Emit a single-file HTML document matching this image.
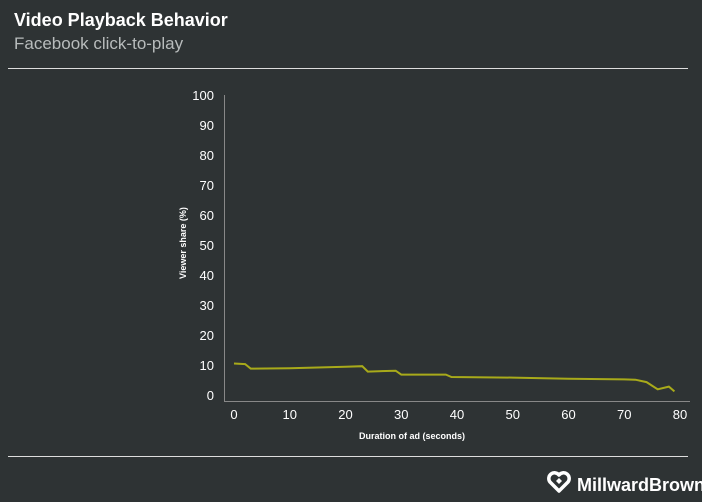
<!DOCTYPE html>
<html><head><meta charset="utf-8"><style>
body{margin:0;background:#2e3334;width:702px;height:497px;overflow:hidden;font-family:"Liberation Sans",sans-serif}
</style></head><body>
<svg width="702" height="497">
<rect width="702" height="497" fill="#2e3334"/>
<text x="14" y="26" fill="#fff" font-size="18" font-weight="bold">Video Playback Behavior</text>
<text x="14" y="49" fill="#b8bcbc" font-size="17">Facebook click-to-play</text>
<line x1="8" y1="68.5" x2="688" y2="68.5" stroke="#ddd" stroke-width="1"/>
<line x1="8" y1="456.5" x2="688" y2="456.5" stroke="#ddd" stroke-width="1"/>
<g id="axes"></g>
<polyline id="series" fill="none" stroke="#a8aa1a" stroke-width="2"/>
<text x="412" y="439" fill="#fff" font-size="9" font-weight="bold" text-anchor="middle">Duration of ad (seconds)</text>
<text transform="translate(186,243) rotate(-90)" fill="#fff" font-size="9" font-weight="bold" text-anchor="middle">Viewer share (%)</text>
<g>
<path d="M559 491 l-9 -9 a5 5 0 0 1 9 -7 a5 5 0 0 1 9 7 z" fill="none" stroke="#fff" stroke-width="3.5" stroke-linejoin="round"/>
<path d="M559 484 l-3 -3 3 -3 3 3z" fill="#fff"/>
<text x="577" y="491" fill="#fff" font-size="18" font-weight="bold">MillwardBrown</text>
</g>
</svg>
<script>
const durations=[0,2,3,10,20,23,24,29,30,38,39,50,60,70,72,74,76,78,79];
const shares=[10.5,10.3,8.8,8.9,9.4,9.6,7.8,8.1,6.8,6.8,6.0,5.8,5.4,5.2,5.1,4.3,1.9,2.8,1.2];
const xTicks=[0,10,20,30,40,50,60,70,80];
const yTicks=[0,10,20,30,40,50,60,70,80,90,100];
const NS="http://www.w3.org/2000/svg";
const xs=v=>234+v*(680-234)/80;
const ys=v=>395-v*3;
const ax=document.getElementById('axes');
function mk(tag,attrs,txt){const e=document.createElementNS(NS,tag);for(const k in attrs)e.setAttribute(k,attrs[k]);if(txt!==undefined)e.textContent=txt;ax.appendChild(e);return e;}
let a=mk('line',{x1:224.5,y1:95,x2:224.5,y2:401.5,stroke:'#888'});


let b=mk('line',{x1:224,y1:401.5,x2:690,y2:401.5,stroke:'#888'});


yTicks.forEach(v=>{const t=mk('text',{x:214,y:ys(v)+5,fill:'#fff','font-size':13,'text-anchor':'end'},v);

});
xTicks.forEach(v=>{const t=mk('text',{x:xs(v),y:419,fill:'#fff','font-size':13,'text-anchor':'middle'},v);

});
document.getElementById('series').setAttribute('points',durations.map((d,i)=>xs(d)+','+ys(shares[i])).join(' '));
</script>
</body></html>
